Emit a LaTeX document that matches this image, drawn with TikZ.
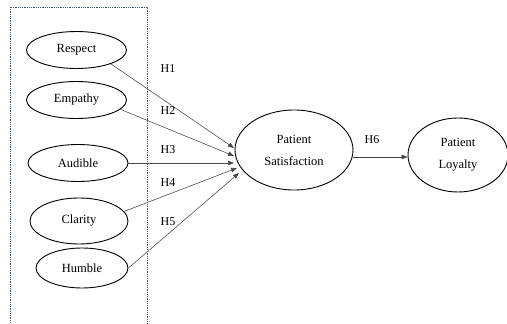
\documentclass[tikz,border=0pt]{standalone}
\usepackage{fontspec}
\setmainfont{Liberation Serif}
\usetikzlibrary{shapes.geometric,arrows.meta}
\definecolor{boxblue}{RGB}{60,80,115}
\definecolor{lnk}{RGB}{70,70,70}
\begin{document}
\begin{tikzpicture}[x=1pt,y=-1pt,
  oval/.style={ellipse,draw=black,line width=0.9pt,minimum width=#1,minimum height=37pt,inner sep=0pt,font=\fontsize{12.5}{14}\selectfont},
  oval/.default=100pt,
  link/.style={draw=lnk,line width=0.55pt,-{Triangle[length=6pt,width=4.5pt]}},
  hlab/.style={font=\fontsize{12}{13}\selectfont,inner sep=0pt}]
\useasboundingbox (0,0) rectangle (507,324);
\draw[boxblue,dash pattern=on 1pt off 0.8pt,line width=1pt] (10,7) rectangle (147,330);
\node[oval] (resp) at (76.5,50) {Respect};
\node[oval] (emp) at (76.5,100) {Empathy};
\node[oval] (aud) at (78,163) {Audible};
\node[oval=98pt,minimum height=46pt] (cla) at (79,221) {Clarity};
\node[oval=92pt,minimum height=40pt] (hum) at (82,268) {Humble};
\node[oval=118pt,minimum height=80pt,align=center] (ps) at (294,150) {Patient\\[8pt]Satisfaction};
\node[oval=100pt,minimum height=74pt,align=center] (pl) at (458,155) {Patient\\[8pt]Loyalty};
\coordinate (e1) at (234,148);
\coordinate (e2) at (234,156);
\coordinate (e3) at (234,163);
\coordinate (e4) at (237,168);
\coordinate (e5) at (239,173);
\draw[link] (resp.-22) -- (e1);
\draw[link] (emp.-12) -- (e2);
\draw[link] (aud.east) -- (e3);
\draw[link] (cla.12) -- (e4);
\draw[link] (hum.0) -- (e5);
\draw[link] (ps.east |- 0,157) -- (pl.west |- 0,157);
\node[hlab] (h1) at (168,69) {H1};
\node[hlab] (h2) at (168,111) {H2};
\node[hlab] (h3) at (168,150) {H3};
\node[hlab] (h4) at (168,183) {H4};
\node[hlab] (h5) at (168,222) {H5};
\node[hlab] (h6) at (372,140) {H6};
\end{tikzpicture}
\end{document}
